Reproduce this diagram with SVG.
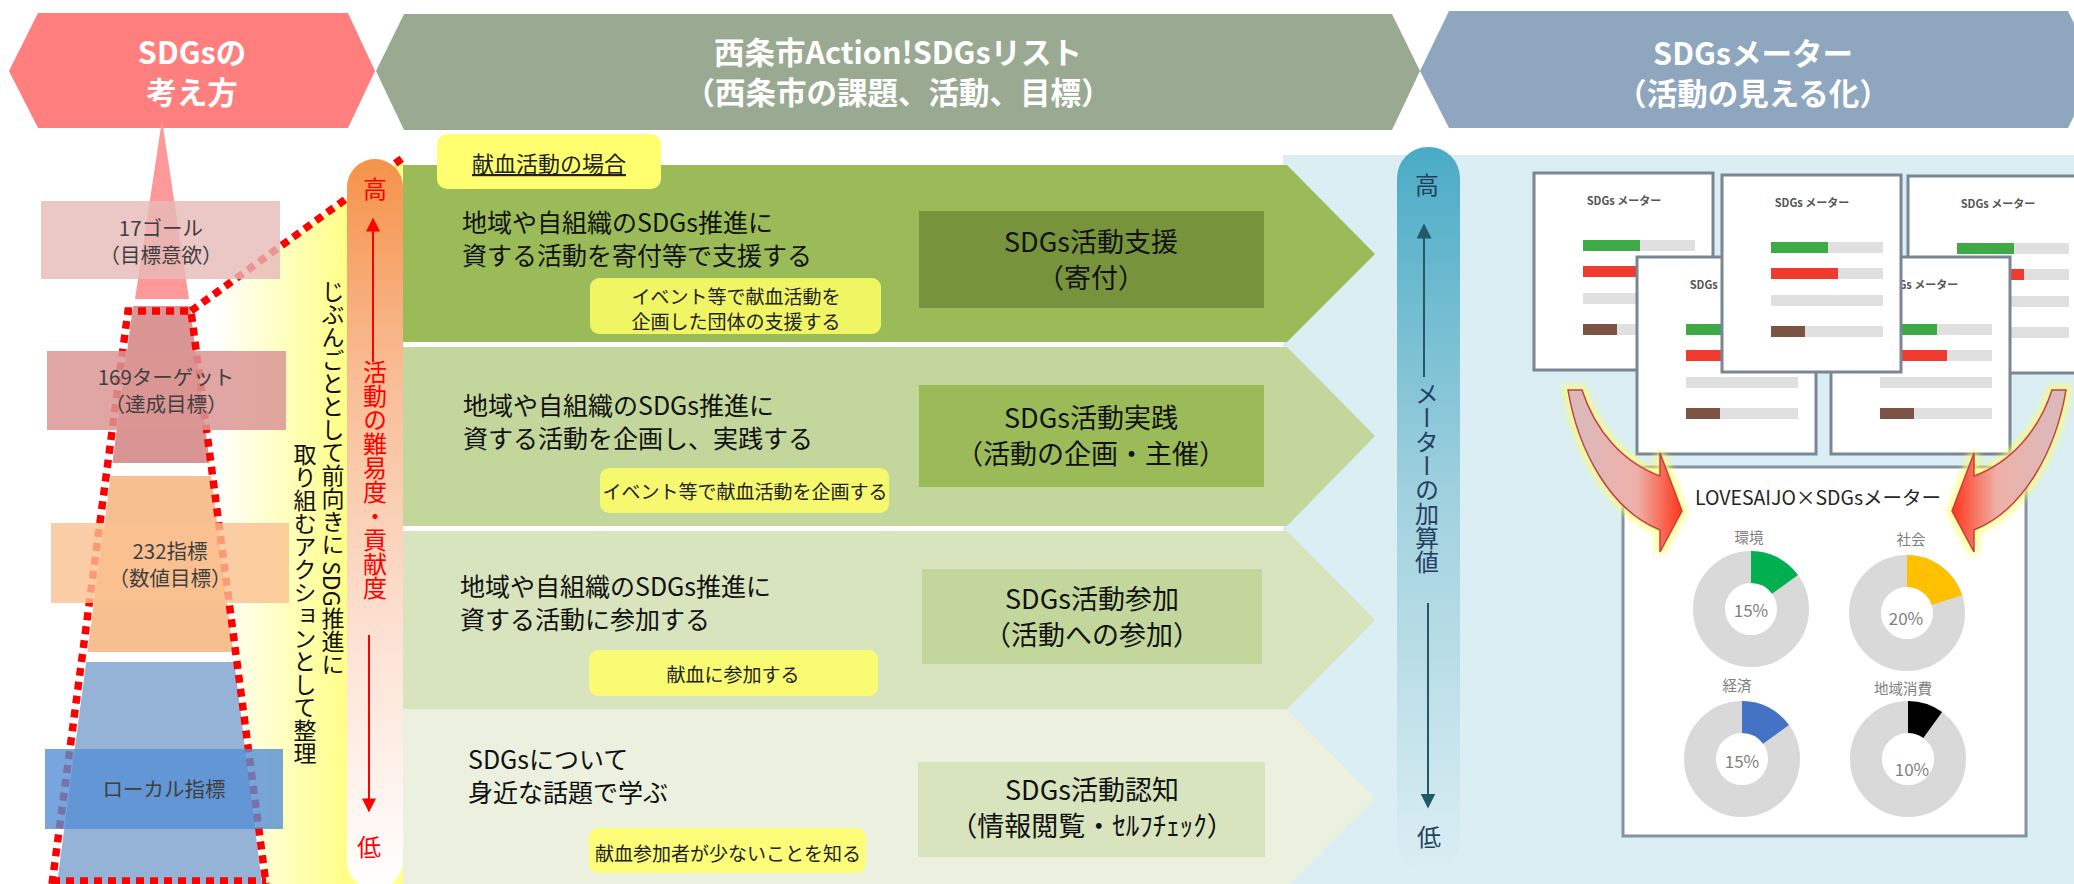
<svg xmlns="http://www.w3.org/2000/svg" xmlns:xlink="http://www.w3.org/1999/xlink" width="2074" height="884" viewBox="0 0 2074 884">
<defs>
<style>
text{font-family:"Noto Sans CJK JP","Noto Sans",sans-serif;}
.hdr{fill:#fff;font-size:30.5px;font-weight:bold;text-anchor:middle;dominant-baseline:central;}
.pyr{fill:#404040;font-size:20.5px;text-anchor:middle;dominant-baseline:central;}
.band{fill:#111;font-size:25px;dominant-baseline:central;}
.sub{fill:#222;font-size:19px;text-anchor:middle;dominant-baseline:central;}
.box{fill:#111;font-size:27px;text-anchor:middle;dominant-baseline:central;}
.vt{writing-mode:vertical-rl;fill:#111;font-size:23px;}
.vred{writing-mode:vertical-rl;fill:#FF0000;font-size:24px;}
.vblue{writing-mode:vertical-rl;fill:#243F60;font-size:24px;}
.red{fill:#FF0000;font-size:24px;text-anchor:middle;dominant-baseline:central;}
.teal{fill:#243F60;font-size:24px;text-anchor:middle;dominant-baseline:central;}
.dot{fill:none;stroke:#FF0000;stroke-width:7.5;stroke-dasharray:8 6;}
.subbox{fill:#FFFF66;fill-opacity:.85;}
.lbl{fill:#7F7F7F;font-size:14.5px;text-anchor:middle;dominant-baseline:central;}
.pct{fill:#7F7F7F;font-size:17px;text-anchor:middle;dominant-baseline:central;}
.ctitle{fill:#555;font-size:11px;font-weight:bold;text-anchor:middle;dominant-baseline:central;}
</style>
<linearGradient id="gOrange" x1="0" y1="0" x2="0" y2="1">
<stop offset="0" stop-color="#F6924A"/><stop offset="0.3" stop-color="#F8BD95"/><stop offset="0.65" stop-color="#FCE1D2"/><stop offset="1" stop-color="#FFFFFF"/>
</linearGradient>
<linearGradient id="gMeter" x1="0" y1="0" x2="0" y2="1">
<stop offset="0" stop-color="#4AABC6"/><stop offset="0.5" stop-color="#A3D2DF"/><stop offset="1" stop-color="#DAEEF3"/>
</linearGradient>
<linearGradient id="gYellow" gradientUnits="userSpaceOnUse" x1="215" y1="0" x2="345" y2="0">
<stop offset="0" stop-color="#FFFFFF"/><stop offset="1" stop-color="#FFFF88"/>
</linearGradient>
<linearGradient id="gArrowL" gradientUnits="userSpaceOnUse" x1="1585" y1="0" x2="1680" y2="0">
<stop offset="0" stop-color="#DDB8B8"/><stop offset="0.55" stop-color="#EFB0A8"/><stop offset="1" stop-color="#FF3A1E"/>
</linearGradient>
<linearGradient id="gArrowR" gradientUnits="userSpaceOnUse" x1="2049" y1="0" x2="1954" y2="0">
<stop offset="0" stop-color="#DDB8B8"/><stop offset="0.55" stop-color="#EFB0A8"/><stop offset="1" stop-color="#FF3A1E"/>
</linearGradient>
<filter id="glow" x="-20%" y="-20%" width="140%" height="140%"><feGaussianBlur stdDeviation="3"/></filter>
<marker id="mRed" viewBox="0 0 10 10" refX="9" refY="5" markerWidth="14" markerHeight="14" markerUnits="userSpaceOnUse" orient="auto"><path d="M0,0 L10,5 L0,10 Z" fill="#FF0000"/></marker>
<marker id="mTeal" viewBox="0 0 10 10" refX="9" refY="5" markerWidth="15" markerHeight="15" markerUnits="userSpaceOnUse" orient="auto"><path d="M0,0 L10,5 L0,10 Z" fill="#215968"/></marker>
<g id="cardTpl">
<rect x="0" y="0" width="179" height="197" fill="#FFFFFF" stroke="#7A8693" stroke-width="3"/>
<text x="90" y="27" class="ctitle">SDGs メーター</text>
<rect x="49" y="67" width="112" height="11" fill="#E0E0E0"/><rect x="49" y="67" width="57" height="11" fill="#3DAA46"/>
<rect x="49" y="93" width="112" height="11" fill="#E0E0E0"/><rect x="49" y="93" width="67" height="11" fill="#EE3B2E"/>
<rect x="49" y="120" width="112" height="11" fill="#E0E0E0"/>
<rect x="49" y="151" width="112" height="11" fill="#E0E0E0"/><rect x="49" y="151" width="34" height="11" fill="#7B5444"/>
</g>
</defs>

<rect x="0" y="0" width="2074" height="884" fill="#FFFFFF"/>

<!-- headers -->
<g id="header-sdgs">
<polygon points="9,71 38,13 348,13 375,71 348,128 38,128" fill="#FF7F7F"/>
<text class="hdr" x="192" y="51">SDGsの<tspan x="192" y="91">考え方</tspan></text>
</g>
<g id="header-list">
<polygon points="376,71 404,14 1392,14 1420,71 1392,130 404,130" fill="#9AAA92"/>
<text class="hdr" x="898" y="51">西条市Action!SDGsリスト<tspan x="898" y="91">（西条市の課題、活動、目標）</tspan></text>
</g>
<g id="header-meter">
<polygon points="1420,71 1449,11 2068,11 2097,70 2068,128 1449,128" fill="#8EA6BE"/>
<text class="hdr" x="1753" y="52">SDGsメーター<tspan x="1753" y="92">（活動の見える化）</tspan></text>
</g>

<!-- pyramid shapes -->
<g id="pyramid">
<polygon points="162,120 189,299 135,299" fill="#FF9999"/>
<polygon points="133,306 190,306 209.6,463 112.4,463" fill="#D99594"/>
<polygon points="110.6,476 211.2,476 233.1,652 87.5,652" fill="#F7BE8F"/>
<polygon points="86.2,662 234.4,662 262,884 57,884" fill="#95B3D7"/>
</g>

<g id="yellow-area">
<polygon points="191,311 403,158 403,884 266,884" fill="url(#gYellow)"/>
</g>

<g id="connectors">
<polyline class="dot" points="52,884 128,311 191,311 266,884"/>
<line class="dot" x1="191" y1="311" x2="404" y2="157"/>
<line class="dot" x1="52" y1="881" x2="266" y2="881"/>
</g>

<g id="goal17">
<rect x="41" y="201" width="239" height="78" fill="#E6B9B8" fill-opacity="0.8"/>
<text class="pyr" x="161" y="227">17ゴール<tspan x="161" y="254">（目標意欲）</tspan></text>
</g>
<g id="target169">
<rect x="47" y="351" width="239" height="79" fill="#DA9694" fill-opacity="0.85"/>
<text class="pyr" x="166" y="376">169ターゲット<tspan x="166" y="403">（達成目標）</tspan></text>
</g>
<g id="index232">
<rect x="51" y="523" width="238" height="80" fill="#FAC090" fill-opacity="0.8"/>
<text class="pyr" x="170" y="550">232指標<tspan x="170" y="577">（数値目標）</tspan></text>
</g>
<g id="local-index">
<rect x="45" y="749" width="238" height="80" fill="#558ED5" fill-opacity="0.8"/>
<text class="pyr" x="164" y="788">ローカル指標</text>
</g>

<g id="note-vertical">
<text class="vt" x="333" y="280">じぶんごととして前向きに SDG推進に</text>
<text class="vt" x="305" y="443">取り組むアクションとして整理</text>
</g>

<g id="difficulty-bar">
<rect x="347" y="159" width="56" height="730" rx="28" fill="url(#gOrange)"/>
<text class="red" x="375" y="187">高</text>
<line x1="373" y1="362" x2="373" y2="219" stroke="#FF0000" stroke-width="2" marker-end="url(#mRed)"/>
<text class="vred" x="375" y="360">活動の難易度・貢献度</text>
<line x1="369" y1="635" x2="369" y2="811" stroke="#FF0000" stroke-width="2" marker-end="url(#mRed)"/>
<text class="red" x="369" y="845">低</text>
</g>

<!-- meter panel -->
<g id="meter-panel">
<rect x="1283" y="155" width="791" height="729" fill="#DAEEF3"/>
</g>

<!-- bands -->
<g id="band-support">
<polygon points="403,165 1287,165 1375,254 1287,342 403,342" fill="#9BBB59"/>
<text class="band" x="462" y="221">地域や自組織のSDGs推進に<tspan x="462" y="254">資する活動を寄付等で支援する</tspan></text>
<rect class="subbox" x="590" y="278" width="291" height="56" rx="9"/>
<text class="sub" x="736" y="295">イベント等で献血活動を<tspan x="736" y="320">企画した団体の支援する</tspan></text>
<rect x="919" y="211" width="345" height="97" fill="#77933C"/>
<text class="box" x="1091" y="240">SDGs活動支援<tspan x="1091" y="276">（寄付）</tspan></text>
</g>
<g id="band-practice">
<polygon points="403,347 1287,347 1375,436 1287,526 403,526" fill="#C3D69B"/>
<text class="band" x="463" y="404">地域や自組織のSDGs推進に<tspan x="463" y="437">資する活動を企画し、実践する</tspan></text>
<rect class="subbox" x="600" y="468" width="289" height="45" rx="9"/>
<text class="sub" x="745" y="490">イベント等で献血活動を企画する</text>
<rect x="919" y="385" width="345" height="102" fill="#9BBB59"/>
<text class="box" x="1091" y="416">SDGs活動実践<tspan x="1091" y="452">（活動の企画・主催）</tspan></text>
</g>
<g id="band-participate">
<polygon points="403,531 1287,531 1375,620 1287,709 403,709" fill="#D7E4BD"/>
<text class="band" x="460" y="585">地域や自組織のSDGs推進に<tspan x="460" y="618">資する活動に参加する</tspan></text>
<rect class="subbox" x="589" y="650" width="289" height="46" rx="9"/>
<text class="sub" x="733" y="673">献血に参加する</text>
<rect x="922" y="569" width="340" height="95" fill="#C3D69B"/>
<text class="box" x="1092" y="597">SDGs活動参加<tspan x="1092" y="633">（活動への参加）</tspan></text>
</g>
<g id="band-awareness">
<polygon points="403,709 1287,709 1375,798 1287,887 403,887" fill="#EBF1DE"/>
<text class="band" x="468" y="758">SDGsについて<tspan x="468" y="791">身近な話題で学ぶ</tspan></text>
<rect class="subbox" x="589" y="828" width="277" height="45" rx="9"/>
<text class="sub" x="728" y="852">献血参加者が少ないことを知る</text>
<rect x="918" y="762" width="347" height="95" fill="#D7E4BD"/>
<text class="box" x="1092" y="788">SDGs活動認知<tspan x="1092" y="824">（情報閲覧・ｾﾙﾌﾁｪｯｸ）</tspan></text>
</g>

<g id="case-label">
<rect x="437" y="134" width="224" height="55" rx="10" fill="#FFFF70"/>
<text x="549" y="162" font-size="22" fill="#222" text-anchor="middle" dominant-baseline="central" text-decoration="underline">献血活動の場合</text>
</g>

<g id="meter-bar">
<rect x="1397" y="147" width="63" height="725" rx="31" fill="url(#gMeter)"/>
<text class="teal" x="1427" y="183">高</text>
<line x1="1424" y1="377" x2="1424" y2="225" stroke="#215968" stroke-width="2" marker-end="url(#mTeal)"/>
<text class="vblue" x="1427" y="382">メーターの加算値</text>
<line x1="1428" y1="603" x2="1428" y2="807" stroke="#215968" stroke-width="2" marker-end="url(#mTeal)"/>
<text class="teal" x="1429" y="835">低</text>
</g>

<!-- meter cards -->
<g id="card-a"><use xlink:href="#cardTpl" x="1534" y="173"/></g>
<g id="card-c"><use xlink:href="#cardTpl" x="1908" y="176"/></g>
<g id="card-d"><use xlink:href="#cardTpl" x="1637" y="257"/></g>
<g id="card-e"><use xlink:href="#cardTpl" x="1831" y="257"/></g>
<g id="card-b"><use xlink:href="#cardTpl" x="1722" y="175"/></g>

<g id="lovesaijo-card">
<rect x="1623" y="467" width="403" height="369" fill="#FFFFFF" stroke="#8493A0" stroke-width="3"/>
<text x="1818" y="496" font-size="19.5" fill="#262626" text-anchor="middle" dominant-baseline="central">LOVESAIJO×SDGsメーター</text>
<text class="lbl" x="1749" y="536">環境</text>
<circle cx="1751" cy="609" r="42" fill="none" stroke="#D9D9D9" stroke-width="32"/>
<circle cx="1751" cy="609" r="42" fill="none" stroke="#00B050" stroke-width="32" stroke-dasharray="39.58 300" transform="rotate(-90 1751 609)"/>
<text class="pct" x="1751" y="609">15%</text>
<text class="lbl" x="1911" y="538">社会</text>
<circle cx="1907" cy="613" r="42" fill="none" stroke="#D9D9D9" stroke-width="32"/>
<circle cx="1907" cy="613" r="42" fill="none" stroke="#FFC000" stroke-width="32" stroke-dasharray="52.78 300" transform="rotate(-90 1907 613)"/>
<text class="pct" x="1906" y="617">20%</text>
<text class="lbl" x="1737" y="684">経済</text>
<circle cx="1742" cy="759" r="42" fill="none" stroke="#D9D9D9" stroke-width="32"/>
<circle cx="1742" cy="759" r="42" fill="none" stroke="#4472C4" stroke-width="32" stroke-dasharray="39.58 300" transform="rotate(-90 1742 759)"/>
<text class="pct" x="1742" y="760">15%</text>
<text class="lbl" x="1903" y="687">地域消費</text>
<circle cx="1908" cy="759" r="42" fill="none" stroke="#D9D9D9" stroke-width="32"/>
<circle cx="1908" cy="759" r="42" fill="none" stroke="#000000" stroke-width="32" stroke-dasharray="26.39 300" transform="rotate(-90 1908 759)"/>
<text class="pct" x="1912" y="768">10%</text>
</g>

<g id="connectors-meter">
<path d="M1568,390 C1578,450 1610,510 1660,530 L1660,552 L1682,511 L1660,453 L1660,476 C1622,462 1595,430 1582,390 Z" fill="none" stroke="#FFFF66" stroke-width="9" stroke-opacity="0.8" filter="url(#glow)"/>
<path d="M1568,390 C1578,450 1610,510 1660,530 L1660,552 L1682,511 L1660,453 L1660,476 C1622,462 1595,430 1582,390 Z" fill="url(#gArrowL)" stroke="#C0404D" stroke-width="1.5"/>
<path d="M2066,390 C2056,450 2024,510 1974,530 L1974,552 L1952,511 L1974,453 L1974,476 C2012,462 2039,430 2052,390 Z" fill="none" stroke="#FFFF66" stroke-width="9" stroke-opacity="0.8" filter="url(#glow)"/>
<path d="M2066,390 C2056,450 2024,510 1974,530 L1974,552 L1952,511 L1974,453 L1974,476 C2012,462 2039,430 2052,390 Z" fill="url(#gArrowR)" stroke="#C0404D" stroke-width="1.5"/>
</g>
</svg>
